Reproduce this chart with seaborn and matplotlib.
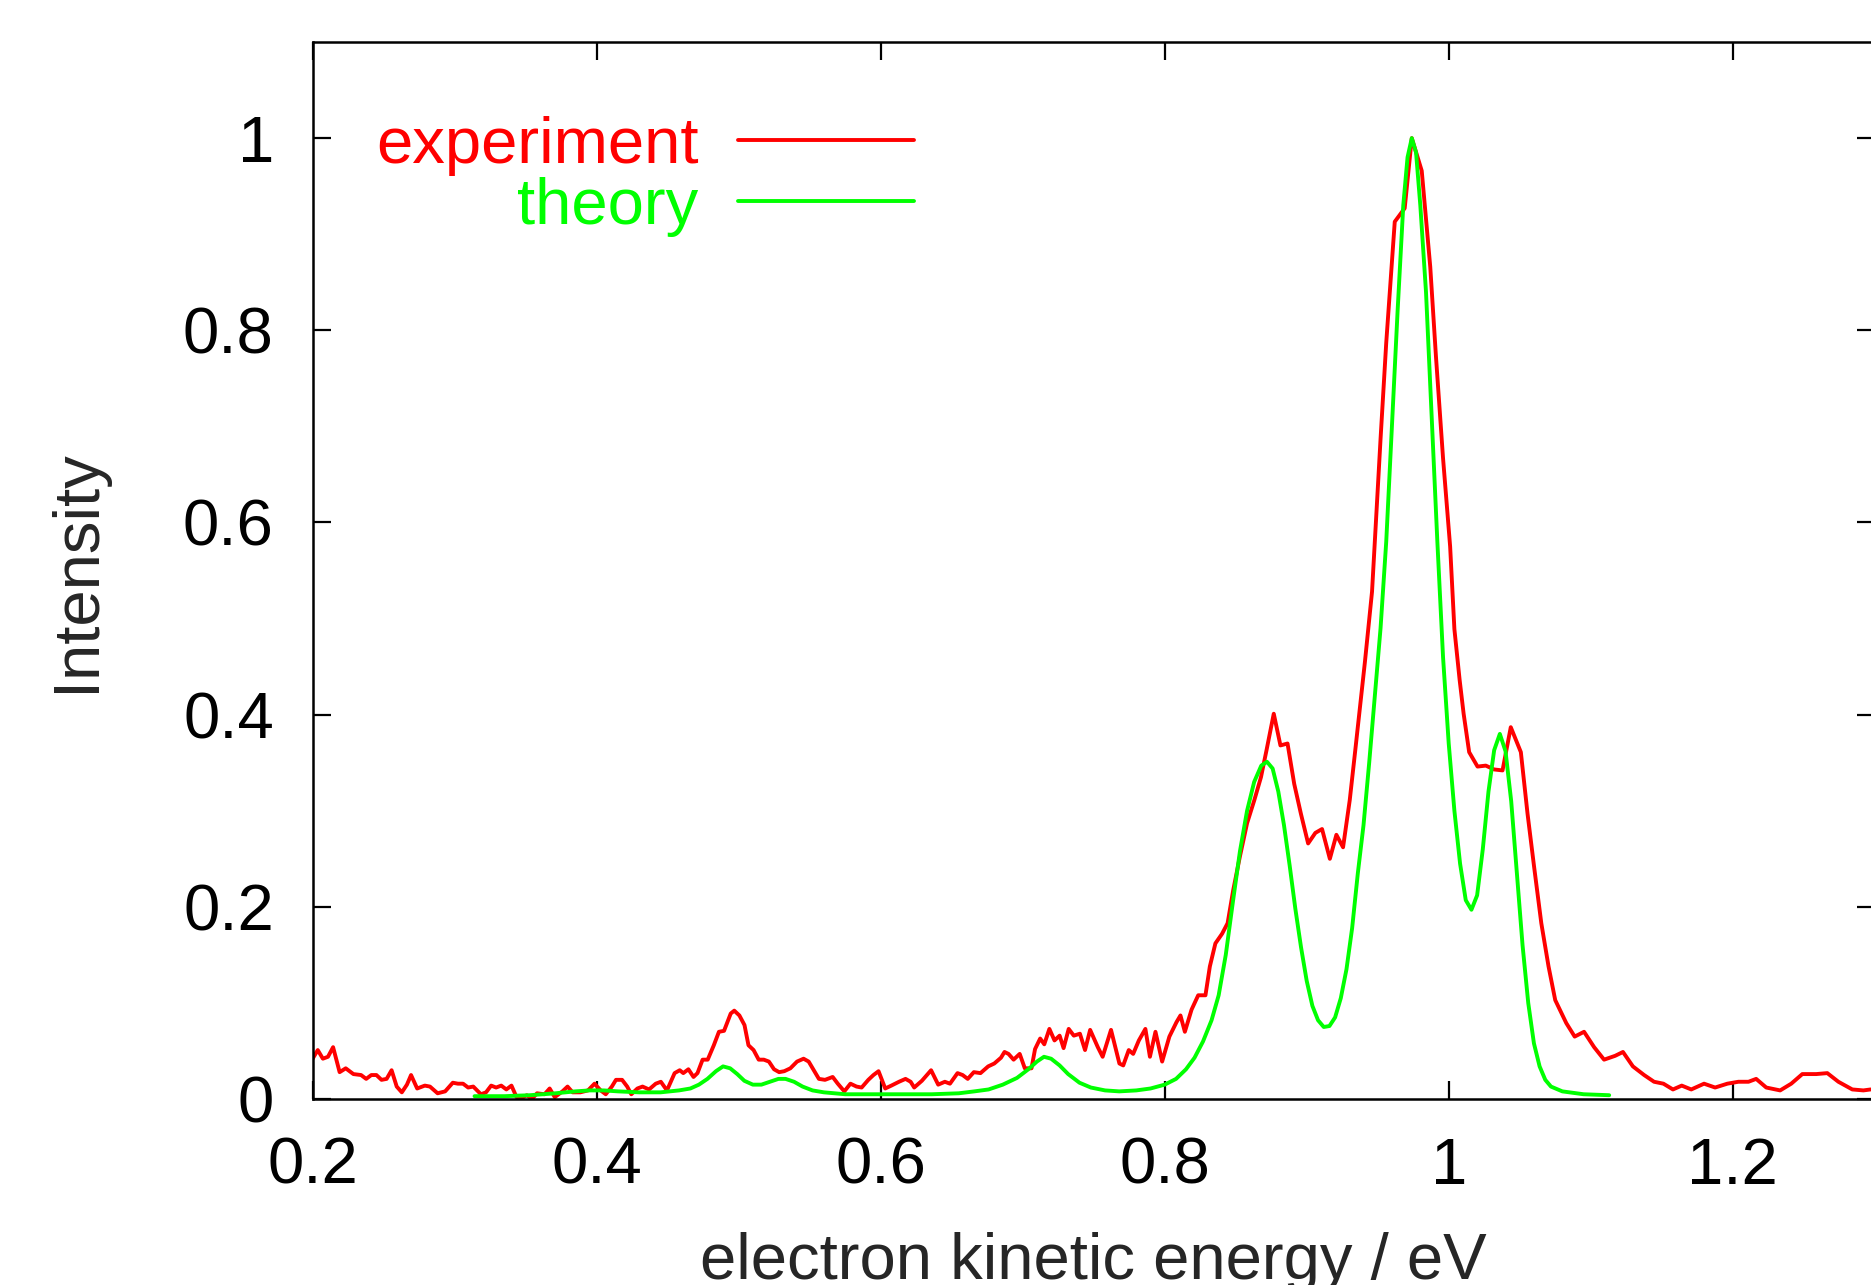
import matplotlib
matplotlib.use("Agg")
import matplotlib.pyplot as plt
import seaborn as sns
import pandas as pd
from matplotlib.ticker import FuncFormatter

exp_energy = [
    0.2000, 0.2036, 0.2072, 0.2108, 0.2144, 0.2190, 0.2233, 0.2287, 0.2341, 0.2377,
    0.2413, 0.2449, 0.2485, 0.2521, 0.2556, 0.2592, 0.2628, 0.2664, 0.2693, 0.2736,
    0.2790, 0.2826, 0.2880, 0.2933, 0.2987, 0.3023, 0.3059, 0.3095, 0.3131, 0.3185,
    0.3221, 0.3257, 0.3292, 0.3328, 0.3364, 0.3400, 0.3436, 0.3461, 0.3508, 0.3544,
    0.3580, 0.3633, 0.3669, 0.3705, 0.3759, 0.3795, 0.3831, 0.3885, 0.3939, 0.3985,
    0.4028, 0.4064, 0.4107, 0.4136, 0.4179, 0.4215, 0.4244, 0.4287, 0.4323, 0.4369,
    0.4416, 0.4452, 0.4495, 0.4549, 0.4585, 0.4610, 0.4646, 0.4682, 0.4710, 0.4746,
    0.4782, 0.4825, 0.4861, 0.4897, 0.4944, 0.4969, 0.5005, 0.5041, 0.5069, 0.5105,
    0.5141, 0.5177, 0.5213, 0.5249, 0.5285, 0.5321, 0.5364, 0.5411, 0.5457, 0.5493,
    0.5529, 0.5565, 0.5608, 0.5662, 0.5698, 0.5744, 0.5787, 0.5830, 0.5866, 0.5913,
    0.5949, 0.5985, 0.6032, 0.6075, 0.6129, 0.6175, 0.6211, 0.6236, 0.6290, 0.6355,
    0.6405, 0.6452, 0.6488, 0.6541, 0.6577, 0.6613, 0.6656, 0.6703, 0.6757, 0.6800,
    0.6847, 0.6872, 0.6900, 0.6936, 0.6979, 0.7015, 0.7062, 0.7087, 0.7123, 0.7152,
    0.7188, 0.7224, 0.7260, 0.7288, 0.7324, 0.7360, 0.7403, 0.7439, 0.7475, 0.7529,
    0.7563, 0.7622, 0.7681, 0.7708, 0.7747, 0.7778, 0.7818, 0.7864, 0.7896, 0.7935,
    0.7982, 0.8033, 0.8083, 0.8111, 0.8142, 0.8189, 0.8236, 0.8287, 0.8318, 0.8357,
    0.8404, 0.8443, 0.8482, 0.8529, 0.8580, 0.8631, 0.8678, 0.8717, 0.8768, 0.8815,
    0.8865, 0.8912, 0.8959, 0.9010, 0.9061, 0.9108, 0.9163, 0.9209, 0.9256, 0.9303,
    0.9342, 0.9380, 0.9410, 0.9460, 0.9520, 0.9560, 0.9620, 0.9690, 0.9740, 0.9810,
    0.9870, 0.9910, 0.9960, 1.0010, 1.0040, 1.0077, 1.0105, 1.0144, 1.0203, 1.0261,
    1.0320, 1.0379, 1.0437, 1.0508, 1.0555, 1.0601, 1.0652, 1.0703, 1.0750, 1.0828,
    1.0887, 1.0953, 1.1024, 1.1094, 1.1172, 1.1227, 1.1297, 1.1376, 1.1446, 1.1512,
    1.1579, 1.1641, 1.1708, 1.1798, 1.1876, 1.1962, 1.2040, 1.2111, 1.2165, 1.2236,
    1.2334, 1.2412, 1.2490, 1.2588, 1.2666, 1.2744, 1.2842, 1.2920, 1.2971,
]
exp_intensity = [
    0.042, 0.051, 0.042, 0.044, 0.054, 0.028, 0.032, 0.026, 0.025, 0.021,
    0.025, 0.025, 0.020, 0.021, 0.030, 0.013, 0.007, 0.015, 0.025, 0.011,
    0.014, 0.013, 0.006, 0.008, 0.017, 0.016, 0.016, 0.012, 0.013, 0.005,
    0.007, 0.014, 0.012, 0.014, 0.010, 0.014, 0.002, 0.000, 0.004, 0.000,
    0.006, 0.005, 0.011, 0.002, 0.008, 0.013, 0.007, 0.007, 0.009, 0.016,
    0.009, 0.005, 0.013, 0.020, 0.020, 0.013, 0.005, 0.011, 0.013, 0.010,
    0.016, 0.018, 0.009, 0.027, 0.030, 0.027, 0.031, 0.023, 0.027, 0.041,
    0.041, 0.056, 0.070, 0.071, 0.089, 0.092, 0.087, 0.077, 0.056, 0.051,
    0.041, 0.041, 0.039, 0.031, 0.028, 0.029, 0.032, 0.039, 0.042, 0.039,
    0.030, 0.021, 0.020, 0.023, 0.016, 0.008, 0.016, 0.013, 0.012, 0.020,
    0.025, 0.029, 0.011, 0.014, 0.018, 0.021, 0.018, 0.012, 0.019, 0.030,
    0.015, 0.018, 0.016, 0.027, 0.025, 0.021, 0.028, 0.027, 0.034, 0.037,
    0.043, 0.049, 0.047, 0.041, 0.047, 0.032, 0.032, 0.052, 0.063, 0.057,
    0.073, 0.061, 0.066, 0.053, 0.073, 0.066, 0.068, 0.051, 0.072, 0.054,
    0.044, 0.072, 0.037, 0.035, 0.051, 0.047, 0.061, 0.073, 0.044, 0.070,
    0.039, 0.065, 0.080, 0.087, 0.070, 0.093, 0.108, 0.108, 0.138, 0.162,
    0.172, 0.183, 0.217, 0.252, 0.287, 0.311, 0.335, 0.363, 0.401, 0.368,
    0.370, 0.328, 0.297, 0.266, 0.277, 0.281, 0.250, 0.275, 0.262, 0.311,
    0.363, 0.415, 0.455, 0.528, 0.687, 0.787, 0.913, 0.927, 1.000, 0.966,
    0.866, 0.773, 0.667, 0.575, 0.489, 0.436, 0.401, 0.361, 0.346, 0.347,
    0.343, 0.342, 0.387, 0.361, 0.297, 0.242, 0.183, 0.138, 0.103, 0.079,
    0.065, 0.070, 0.054, 0.041, 0.045, 0.049, 0.034, 0.025, 0.018, 0.016,
    0.010, 0.014, 0.010, 0.016, 0.012, 0.016, 0.018, 0.018, 0.021, 0.012,
    0.009, 0.016, 0.026, 0.026, 0.027, 0.018, 0.010, 0.009, 0.010,
]

# simulated spectrum
theo_energy = [
    0.314, 0.335, 0.353, 0.371, 0.385, 0.395, 0.405, 0.415, 0.430, 0.445,
    0.458, 0.466, 0.472, 0.478, 0.484, 0.489, 0.494, 0.499, 0.504, 0.510,
    0.516, 0.522, 0.528, 0.533, 0.539, 0.545, 0.552, 0.560, 0.575, 0.595,
    0.615, 0.636, 0.655, 0.666, 0.676, 0.686, 0.696, 0.704, 0.710, 0.715,
    0.720, 0.726, 0.732, 0.740, 0.748, 0.758, 0.768, 0.780, 0.790, 0.800,
    0.808, 0.815, 0.821, 0.827, 0.833, 0.838, 0.843, 0.848, 0.853, 0.858,
    0.863, 0.868, 0.872, 0.876, 0.880, 0.884, 0.888, 0.892, 0.896, 0.900,
    0.904, 0.908, 0.912, 0.916, 0.920, 0.924, 0.928, 0.932, 0.936, 0.940,
    0.944, 0.948, 0.952, 0.956, 0.960, 0.964, 0.968, 0.971, 0.974, 0.977,
    0.980, 0.984, 0.988, 0.992, 0.996, 1.000, 1.004, 1.008, 1.012, 1.016,
    1.020, 1.024, 1.028, 1.032, 1.036, 1.040, 1.044, 1.048, 1.052, 1.056,
    1.060, 1.064, 1.068, 1.072, 1.080, 1.095, 1.113,
]
theo_intensity = [
    0.003, 0.003, 0.004, 0.006, 0.008, 0.009, 0.009, 0.008, 0.007, 0.007,
    0.009, 0.011, 0.015, 0.021, 0.029, 0.034, 0.032, 0.026, 0.019, 0.015,
    0.015, 0.018, 0.021, 0.021, 0.018, 0.013, 0.009, 0.007, 0.005, 0.005,
    0.005, 0.005, 0.006, 0.008, 0.010, 0.015, 0.022, 0.031, 0.039, 0.044,
    0.042, 0.035, 0.026, 0.017, 0.012, 0.009, 0.008, 0.009, 0.011, 0.015,
    0.021, 0.031, 0.043, 0.060, 0.082, 0.108, 0.150, 0.205, 0.258, 0.300,
    0.330, 0.347, 0.351, 0.344, 0.320, 0.285, 0.243, 0.198, 0.158, 0.123,
    0.097, 0.082, 0.075, 0.076, 0.085, 0.105, 0.135, 0.178, 0.235, 0.285,
    0.350, 0.420, 0.490, 0.580, 0.700, 0.820, 0.930, 0.980, 1.000, 0.985,
    0.930, 0.840, 0.710, 0.580, 0.460, 0.370, 0.300, 0.245, 0.207, 0.197,
    0.212, 0.260, 0.320, 0.363, 0.380, 0.362, 0.310, 0.235, 0.160, 0.100,
    0.058, 0.034, 0.020, 0.013, 0.008, 0.005, 0.004,
]

x_ticks = [0.2, 0.4, 0.6, 0.8, 1.0, 1.2]
y_ticks = [0, 0.2, 0.4, 0.6, 0.8, 1.0]

exp_df = pd.DataFrame({"energy": exp_energy, "intensity": exp_intensity})
theo_df = pd.DataFrame({"energy": theo_energy, "intensity": theo_intensity})

sns.set_style("ticks")
plt.rcParams["font.family"] = ["Liberation Sans", "DejaVu Sans"]
fs = 47

fig = plt.figure(figsize=(18.71, 12.85), dpi=100)
ax = fig.add_axes([0.1671, 0.1447, 0.8349, 0.8226])

sns.lineplot(data=exp_df, x="energy", y="intensity", color="#ff0000",
             lw=2.8, label="experiment", ax=ax)
sns.lineplot(data=theo_df, x="energy", y="intensity", color="#00ff00",
             lw=2.8, label="theory", ax=ax)

ax.set_xlim(0.2, 1.3)
ax.set_ylim(0, 1.1)
ax.set_xticks(x_ticks)
ax.set_yticks(y_ticks)
fmt = FuncFormatter(lambda v, p: "%g" % v)
ax.xaxis.set_major_formatter(fmt)
ax.yaxis.set_major_formatter(fmt)
ax.tick_params(direction="in", length=13, width=1.6, labelsize=fs,
               top=True, right=True, colors="black")
ax.tick_params(axis="x", pad=27)
ax.tick_params(axis="y", pad=28)
for s in ax.spines.values():
    s.set_linewidth(1.8)
    s.set_color("black")

ax.set_xlabel("electron kinetic energy / eV", fontsize=fs)
ax.set_ylabel("Intensity", fontsize=fs)
ax.xaxis.set_label_coords(0.5, -0.1258)
ax.yaxis.set_label_coords(-0.1317, 0.5)

ax.legend(loc="center right", bbox_to_anchor=(0.385, 0.873), frameon=False,
          markerfirst=False, labelcolor="linecolor", fontsize=fs,
          handlelength=2.7, handletextpad=0.6, borderaxespad=0,
          borderpad=0, labelspacing=0.02)

fig.savefig("out.png", dpi=100)
